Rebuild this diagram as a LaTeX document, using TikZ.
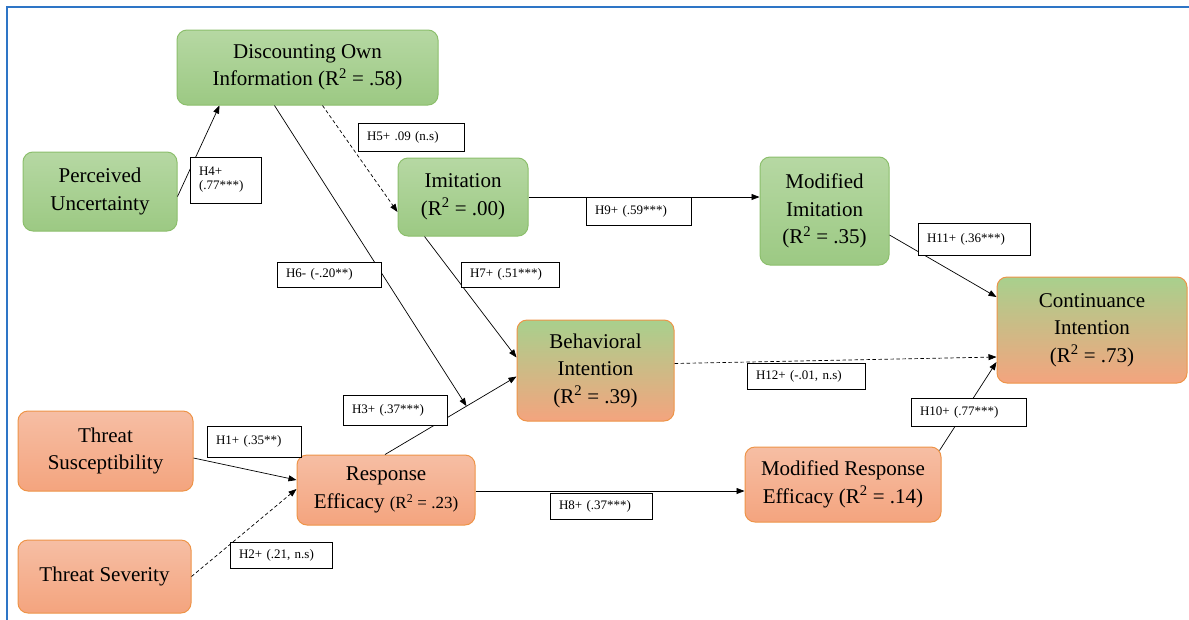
\documentclass[tikz,border=0pt]{standalone}
\usepackage{fontspec}
\setmainfont{Liberation Serif}
\usetikzlibrary{calc,arrows.meta}
\definecolor{gtop}{HTML}{B6D8A3}
\definecolor{gbot}{HTML}{9CC983}
\definecolor{gbrd}{HTML}{8CBF6C}
\definecolor{otop}{HTML}{F6BEA4}
\definecolor{obot}{HTML}{F4A47E}
\definecolor{obrd}{HTML}{EE9448}
\definecolor{mtop}{HTML}{A8D08D}
\definecolor{frameblue}{HTML}{2E75C6}
\tikzset{
  box/.style={rounded corners=10pt, inner sep=0pt, align=center,
    font=\fontsize{21}{27.5}\selectfont},
  gbox/.style={box, draw=gbrd, line width=1pt, top color=gtop, bottom color=gbot},
  obox/.style={box, draw=obrd, line width=1pt, top color=otop, bottom color=obot},
  mbox/.style={box, draw=obrd, line width=1pt, top color=mtop, bottom color=obot},
  lbl/.style={draw=black, line width=0.7pt, fill=white, inner xsep=9pt, inner ysep=0pt,
    align=left, font=\fontsize{13}{14}\selectfont},
  arr/.style={-{Triangle[length=8pt,width=6pt]}, line width=0.7pt, black},
  darr/.style={arr, dashed, dash pattern=on 3.5pt off 2.5pt}
}
\begin{document}
\begin{tikzpicture}[x=1pt,y=-1pt]
\useasboundingbox (0,0) rectangle (1189,619);
\fill[white] (0,0) rectangle (1189,619);
\draw[frameblue, line width=2pt] (7,640) -- (7,7) -- (1200,7);
% constructs
\node[gbox, minimum width=261pt, minimum height=75pt] (DOI) at (307.5,67.5) {Discounting Own\\Information (R\textsuperscript{2} = .58)};
\node[gbox, minimum width=154pt, minimum height=79pt] (PU) at (100,191.5) {Perceived\\Uncertainty};
\node[gbox, minimum width=130pt, minimum height=78pt] (IM) at (463,197) {Imitation\\(R\textsuperscript{2} = .00)};
\node[gbox, minimum width=129pt, minimum height=108pt] (MI) at (824.5,211) {Modified\\Imitation\\(R\textsuperscript{2} = .35)};
\node[mbox, minimum width=190pt, minimum height=106pt] (CI) at (1092,330) {Continuance\\Intention\\(R\textsuperscript{2} = .73)};
\node[mbox, minimum width=157pt, minimum height=101pt] (BI) at (595.5,370.5) {Behavioral\\Intention\\(R\textsuperscript{2} = .39)};
\node[obox, minimum width=175pt, minimum height=80pt] (TS) at (105.5,451) {Threat\\Susceptibility};
\node[obox, minimum width=178pt, minimum height=70pt] (RE) at (386,490) {Response\\Efficacy {\fontsize{17}{27}\selectfont(R\textsuperscript{2} = .23)}};
\node[obox, minimum width=196pt, minimum height=75pt] (MRE) at (843,484.5) {Modified Response\\Efficacy (R\textsuperscript{2} = .14)};
\node[obox, minimum width=173pt, minimum height=73pt] (TSV) at (104.5,576.5) {Threat Severity};
% paths
\coordinate (h3s) at ($(RE.north)+(-1,0)$);
\coordinate (h3e) at ($(BI.west)+(0,6)$);
\coordinate (h6e) at ($(h3s)!0.62!(h3e)$);
\coordinate (h8s) at ($(RE.east)+(0,1)$);
\coordinate (h8e) at (h8s -| MRE.west);
\draw[arr] ($(PU.east)+(0,5)$) -- ($(DOI.south west)+(43,0)$);
\draw[darr] ($(DOI.south west)+(146,0)$) -- ($(IM.west)+(0,15)$);
\draw[arr] ($(DOI.south west)+(98,0)$) -- (h6e);
\draw[arr] ($(IM.south west)+(27,0)$) -- ($(BI.west)+(0,-13)$);
\draw[arr] (h3s) -- (h3e);
\draw[arr] ($(TS.east)+(0,7)$) -- ($(RE.west)+(0,-10)$);
\draw[darr] (TSV.east) -- ($(RE.west)+(0,-1)$);
\draw[arr] (h8s) -- (h8e);
\draw[arr] (IM.east) -- (IM.east -| MI.west);
\draw[arr] ($(MI.east)+(0,24)$) -- ($(CI.west)+(0,-33)$);
\draw[darr] ($(BI.east)+(0,-7)$) -- ($(CI.west)+(0,27)$);
\draw[arr] ($(MRE.north east)+(-2,4)$) -- ($(CI.west)+(0,32)$);
% labels
\node[lbl, minimum width=71pt, minimum height=46pt, text width=53pt] (L4) at (225.5,180) {H4+\\(.77***)};
\node[lbl, minimum width=106pt, minimum height=28pt, text width=88pt] (L5) at (411,137) {H5+ .09 (n.s)};
\node[lbl, minimum width=104pt, minimum height=25pt, text width=86pt] (L6) at (329,274.5) {H6- (-.20**)};
\node[lbl, minimum width=98pt, minimum height=25pt, text width=80pt] (L7) at (510,274.5) {H7+ (.51***)};
\node[lbl, minimum width=105pt, minimum height=28pt, text width=87pt] (L9) at (638.5,211) {H9+ (.59***)};
\node[lbl, minimum width=112pt, minimum height=32pt, text width=94pt] (L11) at (974,239) {H11+ (.36***)};
\node[lbl, minimum width=118pt, minimum height=26pt, text width=100pt] (L12) at (806,376) {H12+ (-.01, n.s)};
\node[lbl, minimum width=115pt, minimum height=28pt, text width=97pt] (L10) at (968.5,412) {H10+ (.77***)};
\node[lbl, minimum width=104pt, minimum height=30pt, text width=86pt] (L3) at (395,410) {H3+ (.37***)};
\node[lbl, minimum width=94pt, minimum height=31pt, text width=76pt] (L1) at (254,441.5) {H1+ (.35**)};
\node[lbl, minimum width=102pt, minimum height=26pt, text width=84pt] (L8) at (601,506) {H8+ (.37***)};
\node[lbl, minimum width=102pt, minimum height=26pt, text width=84pt] (L2) at (281,555) {H2+ (.21, n.s)};
\end{tikzpicture}
\end{document}
